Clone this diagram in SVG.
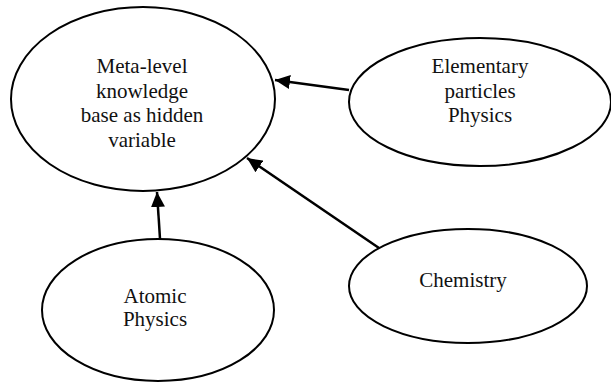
<svg xmlns="http://www.w3.org/2000/svg" width="611" height="383" viewBox="0 0 611 383">
<style>
.node ellipse{fill:#fff;stroke:#000;stroke-width:2}
.node text{font-family:"Liberation Serif","Times New Roman",serif;font-size:21px;fill:#111;text-anchor:middle}
.edge{stroke:#000;stroke-width:2.5;fill:none;marker-end:url(#ah)}
</style>
<defs>
<marker id="ah" markerUnits="userSpaceOnUse" markerWidth="16" markerHeight="15" refX="15" refY="7" orient="auto">
<path d="M0,0 L15,7 L0,14 z" fill="#000"/>
</marker>
</defs>
<rect width="611" height="383" fill="#fff"/>
<g id="connectors">
<line class="edge" x1="349" y1="90" x2="275" y2="80"/>
<line class="edge" x1="379" y1="248" x2="247" y2="158"/>
<line class="edge" x1="160" y1="239" x2="157" y2="192"/>
</g>
<g id="meta" class="node">
<ellipse cx="143" cy="99" rx="132" ry="92"/>
<text x="142" y="73">Meta-level</text>
<text x="142" y="97.5">knowledge</text>
<text x="142" y="122">base as hidden</text>
<text x="142" y="146.5">variable</text>
</g>
<g id="elementary" class="node">
<ellipse cx="480" cy="102" rx="131" ry="64"/>
<text x="480" y="73">Elementary</text>
<text x="480" y="97.5">particles</text>
<text x="480" y="122">Physics</text>
</g>
<g id="atomic" class="node">
<ellipse cx="158" cy="310" rx="116" ry="71"/>
<text x="155" y="303">Atomic</text>
<text x="155" y="326">Physics</text>
</g>
<g id="chemistry" class="node">
<ellipse cx="468" cy="286" rx="119" ry="57"/>
<text x="463" y="287">Chemistry</text>
</g>
</svg>
